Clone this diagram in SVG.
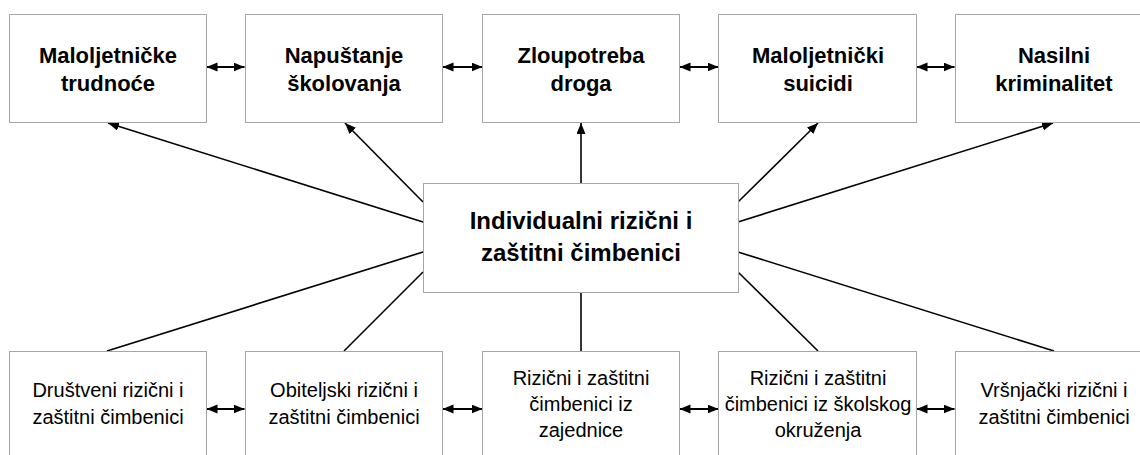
<svg xmlns="http://www.w3.org/2000/svg" width="1140" height="455" viewBox="0 0 1140 455">
<defs>
<marker id="ah" markerUnits="userSpaceOnUse" markerWidth="12" markerHeight="10" refX="11" refY="4.5" orient="auto-start-reverse" viewBox="0 0 12 10">
<path d="M0,0 L11,4.5 L0,9 z" fill="#000"/>
</marker>
<style>
.box{fill:#fff;stroke:#a6a6a6;stroke-width:1}
.top{font-family:"Liberation Sans",Arial,sans-serif;font-weight:bold;font-size:22px;fill:#000;text-anchor:middle}
.mid{font-family:"Liberation Sans",Arial,sans-serif;font-weight:bold;font-size:24px;fill:#000;text-anchor:middle}
.bot{font-family:"Liberation Sans",Arial,sans-serif;font-size:20px;fill:#000;text-anchor:middle}
.ln{stroke:#000;stroke-width:1.6;fill:none}
.arr{stroke:#000;stroke-width:1.6;fill:none;marker-end:url(#ah)}
.dbl{stroke:#000;stroke-width:1.8;fill:none;marker-start:url(#ah);marker-end:url(#ah)}
</style>
</defs>
<rect width="1140" height="455" fill="#fff"/>

<g id="connectors">
<line class="arr" x1="423" y1="222" x2="108" y2="123"/>
<line class="arr" x1="423" y1="202" x2="345" y2="123"/>
<line class="arr" x1="581" y1="183" x2="581" y2="123"/>
<line class="arr" x1="738" y1="202" x2="818" y2="123"/>
<line class="arr" x1="738" y1="222" x2="1053" y2="123"/>
<line class="ln" x1="423" y1="252" x2="107" y2="351"/>
<line class="ln" x1="423" y1="272" x2="344" y2="351"/>
<line class="ln" x1="581" y1="292" x2="581" y2="351"/>
<line class="ln" x1="738" y1="272" x2="818" y2="351"/>
<line class="ln" x1="738" y1="252" x2="1054" y2="351"/>
<line class="dbl" x1="206.5" y1="67" x2="244.5" y2="67"/>
<line class="dbl" x1="442.5" y1="67" x2="482.5" y2="67"/>
<line class="dbl" x1="679.5" y1="67" x2="718.5" y2="67"/>
<line class="dbl" x1="916.5" y1="67" x2="954.5" y2="67"/>
<line class="dbl" x1="206.5" y1="409" x2="244.5" y2="409"/>
<line class="dbl" x1="442.5" y1="409" x2="482.5" y2="409"/>
<line class="dbl" x1="679.5" y1="409" x2="718.5" y2="409"/>
<line class="dbl" x1="916.5" y1="409" x2="954.5" y2="409"/>
</g>

<g id="t1"><rect class="box" x="9.5" y="14.5" width="197" height="108"/><text class="top" x="108" y="63">Maloljetničke</text><text class="top" x="108" y="91">trudnoće</text></g>
<g id="t2"><rect class="box" x="245.5" y="14.5" width="197" height="108"/><text class="top" x="344" y="63">Napuštanje</text><text class="top" x="344" y="91">školovanja</text></g>
<g id="t3"><rect class="box" x="482.5" y="14.5" width="197" height="108"/><text class="top" x="581" y="63">Zloupotreba</text><text class="top" x="581" y="91">droga</text></g>
<g id="t4"><rect class="box" x="718.5" y="14.5" width="198" height="108"/><text class="top" x="818" y="63">Maloljetnički</text><text class="top" x="818" y="91">suicidi</text></g>
<g id="t5"><rect class="box" x="955.5" y="14.5" width="197" height="108"/><text class="top" x="1054" y="63">Nasilni</text><text class="top" x="1054" y="91">kriminalitet</text></g>

<g id="center"><rect class="box" x="423.5" y="183.5" width="315" height="109"/><text class="mid" x="581" y="229">Individualni rizični i</text><text class="mid" x="581" y="261">zaštitni čimbenici</text></g>

<g id="b1"><rect class="box" x="9.5" y="351.5" width="197" height="110"/><text class="bot" x="108" y="397">Društveni rizični i</text><text class="bot" x="108" y="424">zaštitni čimbenici</text></g>
<g id="b2"><rect class="box" x="245.5" y="351.5" width="197" height="110"/><text class="bot" x="344" y="397">Obiteljski rizični i</text><text class="bot" x="344" y="424">zaštitni čimbenici</text></g>
<g id="b3"><rect class="box" x="482.5" y="351.5" width="197" height="110"/><text class="bot" x="581" y="385">Rizični i zaštitni</text><text class="bot" x="581" y="411">čimbenici iz</text><text class="bot" x="581" y="437">zajednice</text></g>
<g id="b4"><rect class="box" x="718.5" y="351.5" width="198" height="110"/><text class="bot" x="818" y="385">Rizični i zaštitni</text><text class="bot" x="818" y="411">čimbenici iz školskog</text><text class="bot" x="818" y="437">okruženja</text></g>
<g id="b5"><rect class="box" x="955.5" y="351.5" width="197" height="110"/><text class="bot" x="1054" y="397">Vršnjački rizični i</text><text class="bot" x="1054" y="424">zaštitni čimbenici</text></g>
</svg>
